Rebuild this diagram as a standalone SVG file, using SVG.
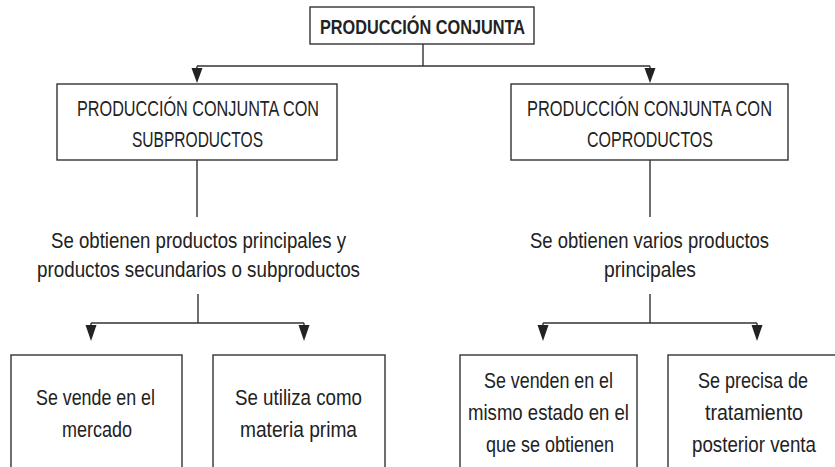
<svg xmlns="http://www.w3.org/2000/svg" width="835" height="467" viewBox="0 0 835 467">
<style>
.box{fill:#fff;stroke:#333;stroke-width:1.4}
.ln{fill:none;stroke:#333;stroke-width:1.4}
.ah{fill:#222}
text{font-family:"Liberation Sans",Arial,sans-serif;font-size:22px;fill:#222;text-anchor:middle}
.b{font-weight:bold;font-size:21px}
</style>
<rect width="835" height="467" fill="#fff"/>
<g id="connectors">
<path class="ln" d="M423 44V66M197 66H650M197 66V70M650 66V70"/>
<polygon class="ah" points="191.5,68 202.5,68 197,83"/>
<polygon class="ah" points="644.5,68 655.5,68 650,83"/>
<path class="ln" d="M197 160V217M650 160V217"/>
<path class="ln" d="M198 294V323M91 323H304M91 323V326M304 323V326M650 294V323M543 323H757M543 323V326M757 323V326"/>
<polygon class="ah" points="85.5,325 96.5,325 91,341"/>
<polygon class="ah" points="298.5,325 309.5,325 304,341"/>
<polygon class="ah" points="537.5,325 548.5,325 543,341"/>
<polygon class="ah" points="751.5,325 762.5,325 757,341"/>
</g>
<g id="root">
<rect class="box" x="310" y="7" width="224" height="37"/>
<text class="b" x="422.5" y="34" textLength="205" lengthAdjust="spacingAndGlyphs">PRODUCCIÓN CONJUNTA</text>
</g>
<g id="sub">
<rect class="box" x="57" y="84" width="280" height="76"/>
<text x="198" y="116" textLength="242" lengthAdjust="spacingAndGlyphs">PRODUCCIÓN CONJUNTA CON</text>
<text x="197.5" y="147" textLength="131" lengthAdjust="spacingAndGlyphs">SUBPRODUCTOS</text>
</g>
<g id="co">
<rect class="box" x="511" y="84" width="277" height="76"/>
<text x="649.5" y="116" textLength="245" lengthAdjust="spacingAndGlyphs">PRODUCCIÓN CONJUNTA CON</text>
<text x="650" y="147" textLength="126" lengthAdjust="spacingAndGlyphs">COPRODUCTOS</text>
</g>
<g id="sub-desc">
<text x="198.5" y="248" textLength="295" lengthAdjust="spacingAndGlyphs">Se obtienen productos principales y</text>
<text x="198.5" y="277" textLength="323" lengthAdjust="spacingAndGlyphs">productos secundarios o subproductos</text>
</g>
<g id="co-desc">
<text x="649.5" y="248" textLength="239" lengthAdjust="spacingAndGlyphs">Se obtienen varios productos</text>
<text x="650" y="277" textLength="92" lengthAdjust="spacingAndGlyphs">principales</text>
</g>
<g id="vende">
<rect class="box" x="11" y="355" width="171" height="130"/>
<text x="95.5" y="405" textLength="119" lengthAdjust="spacingAndGlyphs">Se vende en el</text>
<text x="97" y="437" textLength="70" lengthAdjust="spacingAndGlyphs">mercado</text>
</g>
<g id="materia">
<rect class="box" x="213" y="355" width="172" height="130"/>
<text x="298.5" y="405" textLength="127" lengthAdjust="spacingAndGlyphs">Se utiliza como</text>
<text x="298.5" y="437" textLength="117" lengthAdjust="spacingAndGlyphs">materia prima</text>
</g>
<g id="venden">
<rect class="box" x="460" y="355" width="177" height="130"/>
<text x="548.5" y="388" textLength="129" lengthAdjust="spacingAndGlyphs">Se venden en el</text>
<text x="548.5" y="420" textLength="161" lengthAdjust="spacingAndGlyphs">mismo estado en el</text>
<text x="550" y="452" textLength="128" lengthAdjust="spacingAndGlyphs">que se obtienen</text>
</g>
<g id="precisa">
<rect class="box" x="668" y="355" width="180" height="130"/>
<text x="753" y="388" textLength="110" lengthAdjust="spacingAndGlyphs">Se precisa de</text>
<text x="754" y="420" textLength="98" lengthAdjust="spacingAndGlyphs">tratamiento</text>
<text x="754" y="452" textLength="124" lengthAdjust="spacingAndGlyphs">posterior venta</text>
</g>
</svg>
